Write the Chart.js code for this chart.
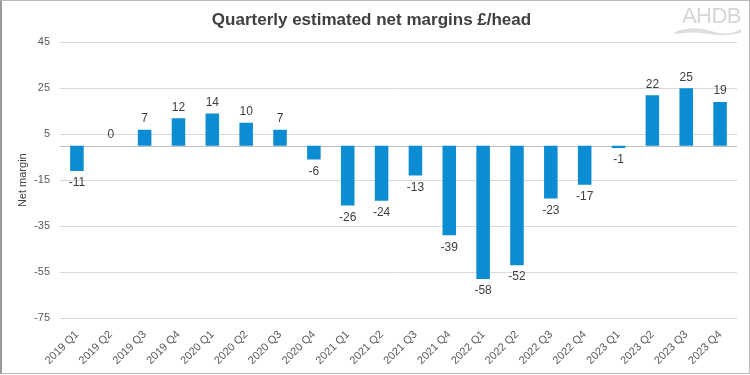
<!DOCTYPE html>
<html><head><meta charset="utf-8">
<script src="https://cdn.jsdelivr.net/npm/chart.js@4"></script>
<style>
html,body{margin:0;padding:0;background:#fff;}
#wrap{position:relative;width:747px;height:372px;border:1px solid #bcbcbc;border-left:2px solid #9a9a9a;}
canvas{display:block;}
#logo{position:absolute;right:6px;top:2px;width:80px;height:36px;font-family:"Liberation Sans",Arial,sans-serif;color:#d6d6d6;font-size:22px;letter-spacing:-0.5px;text-align:right;}
</style></head><body>
<div id="wrap"><canvas id="c" width="747" height="372"></canvas>
<div id="logo"><div style="position:absolute;right:2px;top:0;">AHDB</div>
<svg width="80" height="36" style="position:absolute;left:0;top:0"><path d="M12 29 Q30 22 48 28 T78 26 L78 30 Q60 34 46 31 T12 31 Z" fill="#dedede"/></svg></div>
</div>
<script>
const categories = ["2019 Q1","2019 Q2","2019 Q3","2019 Q4","2020 Q1","2020 Q2","2020 Q3","2020 Q4","2021 Q1","2021 Q2","2021 Q3","2021 Q4","2022 Q1","2022 Q2","2022 Q3","2022 Q4","2023 Q1","2023 Q2","2023 Q3","2023 Q4"];
const netMargin = [-11,0,7,12,14,10,7,-6,-26,-24,-13,-39,-58,-52,-23,-17,-1,22,25,19];
const yMin = -75, yMax = 45, yStep = 20;
const titleText = "Quarterly estimated net margins £/head";
const yTitle = "Net margin";

const FONT = "'Liberation Sans', Arial, sans-serif";

const labelPlugin = {
  id: 'valLabels',
  beforeDatasetsDraw(chart) {
    const ctx = chart.ctx;
    const z = chart.scales.y.getPixelForValue(0);
    ctx.save();
    ctx.strokeStyle = '#bfbfbf';
    ctx.lineWidth = 1;
    ctx.beginPath();
    ctx.moveTo(chart.chartArea.left, Math.round(z)+0.5);
    ctx.lineTo(chart.chartArea.right, Math.round(z)+0.5);
    ctx.stroke();
    ctx.restore();
  },
  afterDatasetsDraw(chart) {
    const ctx = chart.ctx;
    const meta = chart.getDatasetMeta(0);
    ctx.save();
    ctx.fillStyle = '#404040';
    ctx.font = "12px " + FONT;
    ctx.textAlign = 'center';
    meta.data.forEach((bar, i) => {
      const v = netMargin[i];
      if (v >= 0) { ctx.textBaseline = 'bottom'; ctx.fillText(String(v), bar.x, bar.y - 5); }
      else { ctx.textBaseline = 'top'; ctx.fillText(String(v), bar.x, bar.y + 6); }
    });
    ctx.restore();
  }
};

new Chart(document.getElementById('c'), {
  type: 'bar',
  data: { labels: categories, datasets: [{ data: netMargin, backgroundColor: '#0b8cd3', categoryPercentage: 1, barPercentage: 0.4 }] },
  options: {
    responsive: false, animation: false,
    layout: { padding: { left: 4, right: 12, top: 0, bottom: 0 } },
    plugins: {
      legend: { display: false }, tooltip: { enabled: false },
      title: { display: true, text: titleText, color: '#404040', font: { family: FONT, size: 17, weight: 'bold' }, padding: { top: 9, bottom: 12 } }
    },
    scales: {
      x: {
        grid: { display: false }, border: { display: false },
        ticks: { color: '#595959', font: { family: FONT, size: 11 }, minRotation: 45, maxRotation: 45, padding: 2 },
        afterFit(s) { s.height = 55; }
      },
      y: {
        min: yMin, max: yMax,
        grid: { color: '#d9d9d9', drawTicks: false }, border: { display: false },
        ticks: { stepSize: yStep, color: '#595959', font: { family: FONT, size: 11 }, padding: 10 },
        title: { display: true, text: yTitle, color: '#404040', font: { family: FONT, size: 11 }, padding: { top: 10, bottom: 0 } },
        afterFit(s) { s.width = 54; }
      }
    }
  },
  plugins: [labelPlugin]
});
</script>
</body></html>
